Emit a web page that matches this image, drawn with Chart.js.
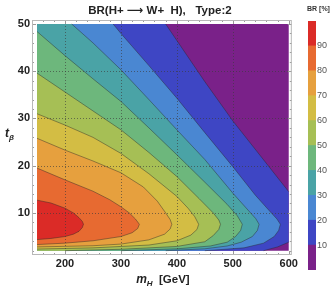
<!DOCTYPE html>
<html>
<head>
<meta charset="utf-8">
<script src="https://cdn.jsdelivr.net/npm/chart.js@4.4.0/dist/chart.umd.min.js"></script>
<style>
	html, body { margin: 0; padding: 0; background: #fff; }
	#wrap { position: relative; width: 332px; height: 289px; }
	#plot { position: absolute; left: 0; top: 0; }
	#bar { position: absolute; left: 300px; top: 0; }
</style>
</head>
<body>
<div id="wrap">
	<canvas id="plot" width="300" height="289"></canvas>
	<canvas id="bar" width="32" height="289"></canvas>
</div>
<script>
// contour levels of BR [%] and band colours (band i = levels[i-1] .. levels[i])
const levels = [10, 20, 30, 40, 50, 60, 70, 80, 90];
const bandColors = ['#7a2189', '#3e46c4', '#4a87d2', '#4aa3a6', '#6db77c', '#a6bf55', '#d3bd44', '#e6a03e', '#e76a31', '#db2b27'];

// contour lines, [mH, tb]
const c10a = [[380, 50], [400, 46.5], [450, 37.8], [500, 29.5], [550, 22.0], [600, 14.5]];
const c10b = [[600, 3.8], [580, 2.8], [555, 2.0]];
const c20 = [[286, 50], [300, 48.0], [350, 41.2], [400, 34.3], [450, 27.0], [500, 19.8], [540, 13.8], [565, 10.5], [579, 8.7], [585, 7.6],
	[582, 6.3], [574, 5.0], [555, 3.6], [520, 2.6], [450, 2.0]];
const c30 = [[212, 50], [250, 46.0], [300, 40.3], [350, 34.0], [400, 27.6], [450, 21.3], [500, 14.2], [528, 10.5], [541, 8.8], [547, 7.6],
	[544, 6.3], [535, 5.0], [515, 3.8], [490, 3.0], [450, 2.4], [380, 2.0]];
const c40 = [[150, 48.4], [200, 43.3], [250, 38.4], [300, 33.6], [350, 28.0], [400, 22.3], [450, 16.5], [490, 11.8], [508, 9.4], [517, 7.6],
	[514, 6.3], [505, 5.0], [490, 3.8], [460, 3.0], [400, 2.4], [300, 2.0]];
const c50 = [[150, 39.6], [200, 35.6], [250, 31.6], [300, 27.6], [350, 22.8], [400, 17.7], [440, 13.0], [465, 10.0], [475, 8.5], [478, 7.6],
	[475, 6.5], [465, 5.2], [450, 3.9], [400, 2.9], [300, 2.3], [200, 2.0]];
const c60 = [[150, 31.0], [200, 28.6], [250, 26.0], [300, 22.6], [350, 18.3], [400, 13.5], [420, 11.0], [432, 9.2], [439, 7.6],
	[436, 6.5], [425, 5.3], [400, 4.1], [350, 3.2], [250, 2.6], [150, 2.35]];
const c70 = [[150, 25.8], [200, 23.3], [250, 21.0], [300, 18.5], [340, 15.5], [365, 12.5], [380, 10.0], [388, 8.6], [391, 7.6],
	[388, 6.6], [378, 5.5], [350, 4.3], [300, 3.4], [250, 3.05], [150, 2.8]];
const c80 = [[150, 19.5], [200, 17.0], [250, 14.6], [280, 12.8], [300, 11.3], [315, 10.0], [326, 8.7], [333, 7.6],
	[330, 6.7], [320, 5.8], [300, 5.0], [250, 4.1], [200, 3.6], [150, 3.3]];
const c90 = [[150, 12.7], [175, 12.1], [200, 11.0], [215, 10.0], [225, 9.0], [231, 8.2], [233, 7.6],
	[231, 6.9], [225, 6.1], [215, 5.5], [200, 5.0], [175, 4.6], [150, 4.35]];

const xTicks = [200, 300, 400, 500, 600];
const yTicks = [10, 20, 30, 40, 50];
const xGrid = [200, 300, 400, 500];
const yGrid = [10, 20, 30, 40];

// plot range of the data
const mMin = 150, mMax = 600, tMin = 2, tMax = 50;

const regions = [
	[[mMin, tMin], [mMax, tMin], [mMax, tMax], [mMin, tMax]],
	[...c10a, ...c10b, [mMin, tMin], [mMin, tMax]],
	[...c20, [mMin, tMin], [mMin, tMax]],
	[...c30, [mMin, tMin], [mMin, tMax]],
	[...c40, [mMin, tMin]],
	[...c50, [mMin, tMin]],
	c60,
	c70,
	c80,
	c90,
];
const contours = [c10a, c10b, c20, c30, c40, c50, c60, c70, c80, c90];

const toXY = (arr) => arr.map(([x, y]) => ({ x, y }));

Chart.defaults.font.family = '"Liberation Sans", Arial, sans-serif';
Chart.defaults.animation = false;

const fillSets = regions.map((r, i) => ({
	data: toXY(r),
	fill: 'shape',
	backgroundColor: bandColors[i],
	borderColor: 'rgba(0,0,0,0)',
	borderWidth: 0,
	pointRadius: 0,
	order: 100 - i,
}));

const lineSets = contours.map((c) => ({
	data: toXY(c),
	fill: false,
	borderColor: 'rgba(40,40,40,0.55)',
	borderWidth: 0.8,
	pointRadius: 0,
	order: 0,
}));

function drawLine(ctx, x1, y1, x2, y2) {
	ctx.beginPath();
	ctx.moveTo(x1, y1);
	ctx.lineTo(x2, y2);
	ctx.stroke();
}

const framePlugin = {
	id: 'frame',
	afterDatasetsDraw(chart) {
		const { ctx, chartArea: a, scales: { x, y } } = chart;
		ctx.save();

		ctx.strokeStyle = 'rgba(60,60,60,0.8)';
		ctx.lineWidth = 0.8;
		ctx.setLineDash([1, 2]);
		xGrid.forEach((v) => {
			const px = Math.round(x.getPixelForValue(v)) + 0.5;
			drawLine(ctx, px, a.top, px, a.bottom);
		});
		yGrid.forEach((v) => {
			const py = Math.round(y.getPixelForValue(v)) + 0.5;
			drawLine(ctx, a.left, py, a.right, py);
		});
		ctx.setLineDash([]);

		// frame ticks, pointing inwards
		ctx.strokeStyle = '#9a9a9a';
		ctx.lineWidth = 1;
		for (let v = 160; v <= mMax; v += 20) {
			const px = Math.round(x.getPixelForValue(v)) + 0.5;
			const len = v % 100 === 0 ? 4 : 2;
			drawLine(ctx, px, a.bottom, px, a.bottom - len);
			drawLine(ctx, px, a.top, px, a.top + len);
		}
		for (let v = tMin; v <= tMax; v += 2) {
			const py = Math.round(y.getPixelForValue(v)) + 0.5;
			const len = v % 10 === 0 ? 4 : 2;
			drawLine(ctx, a.left, py, a.left + len, py);
			drawLine(ctx, a.right, py, a.right - len, py);
		}

		ctx.strokeStyle = '#b8b8b8';
		ctx.strokeRect(a.left + 0.5, a.top + 0.5, a.width - 1, a.height - 1);
		ctx.restore();
	},
	afterDraw(chart) {
		const { ctx, chartArea: a } = chart;
		const cx = (a.left + a.right) / 2;
		ctx.save();
		ctx.fillStyle = '#222';
		ctx.textBaseline = 'alphabetic';

		ctx.font = 'bold 11.5px "Liberation Sans", "DejaVu Sans", sans-serif';
		ctx.textAlign = 'center';
		ctx.fillText('BR(H+ \u27F6 W+  H),   Type:2', cx - 2, 14);

		// x axis title: m_H [GeV]
		ctx.textAlign = 'left';
		const mFont = 'italic bold 12px "Liberation Sans", sans-serif';
		const subFont = 'italic bold 8px "Liberation Sans", sans-serif';
		const unitFont = 'bold 11.5px "Liberation Sans", sans-serif';
		ctx.font = mFont;
		const wm = ctx.measureText('m').width;
		ctx.font = subFont;
		const wh = ctx.measureText('H').width;
		ctx.font = unitFont;
		const wu = ctx.measureText('  [GeV]').width;
		let tx = cx + 1 - (wm + wh + wu) / 2;
		const base = 283;
		ctx.font = mFont;
		ctx.fillText('m', tx, base);
		tx += wm;
		ctx.font = subFont;
		ctx.fillText('H', tx, base + 3);
		tx += wh;
		ctx.font = unitFont;
		ctx.fillText('  [GeV]', tx, base);

		// y axis title: t_beta
		ctx.font = mFont;
		ctx.fillText('t', 5, 137);
		const wt = ctx.measureText('t').width;
		ctx.font = subFont;
		ctx.fillText('\u03B2', 5 + wt, 140);
		ctx.restore();
	},
};

new Chart(document.getElementById('plot'), {
	type: 'line',
	data: { datasets: [...fillSets, ...lineSets] },
	options: {
		responsive: false,
		devicePixelRatio: 1,
		events: [],
		layout: { padding: { top: 20, right: 8, left: 0, bottom: 0 } },
		plugins: { legend: { display: false }, tooltip: { enabled: false } },
		scales: {
			x: {
				type: 'linear',
				min: 141,
				max: 605.5,
				grid: { display: false, drawTicks: false },
				border: { display: false },
				afterBuildTicks: (s) => { s.ticks = xTicks.map((v) => ({ value: v })); },
				afterFit: (s) => { s.height = 34; },
				ticks: { padding: 2, color: '#222', font: { size: 11, weight: 'bold' }, maxRotation: 0 },
			},
			y: {
				type: 'linear',
				min: 1.09,
				max: 50.85,
				grid: { display: false, drawTicks: false },
				border: { display: false },
				afterBuildTicks: (s) => { s.ticks = yTicks.map((v) => ({ value: v })); },
				afterFit: (s) => { s.width = 32; },
				ticks: { padding: 2, color: '#222', font: { size: 11, weight: 'bold' } },
			},
		},
	},
	plugins: [framePlugin],
});

// colour bar legend
const barTicks = [10, 20, 30, 40, 50, 60, 70, 80, 90];

const barTitle = {
	id: 'barTitle',
	afterDraw(chart) {
		const { ctx } = chart;
		ctx.save();
		ctx.fillStyle = '#333';
		ctx.font = 'bold 7px "Liberation Sans", sans-serif';
		ctx.textAlign = 'left';
		ctx.fillText('BR [%]', 7, 11);
		ctx.restore();
	},
};

new Chart(document.getElementById('bar'), {
	type: 'bar',
	data: {
		labels: [''],
		datasets: bandColors.map((c) => ({
			data: [10],
			backgroundColor: c,
			borderWidth: 0,
			barPercentage: 1,
			categoryPercentage: 1,
			stack: 'br',
		})),
	},
	options: {
		responsive: false,
		devicePixelRatio: 1,
		events: [],
		layout: { padding: { top: 21, bottom: 19, left: 8, right: 0 } },
		plugins: { legend: { display: false }, tooltip: { enabled: false } },
		scales: {
			x: { display: false, stacked: true },
			y: {
				position: 'right',
				stacked: true,
				min: 0,
				max: 100,
				z: 1,
				afterBuildTicks: (s) => { s.ticks = barTicks.map((v) => ({ value: v })); },
				afterFit: (s) => { s.width = 16; },
				grid: { drawTicks: false, color: 'rgba(50,50,50,0.45)', lineWidth: 0.8 },
				border: { display: false },
				ticks: { padding: 1, color: '#555', font: { size: 9 } },
			},
		},
	},
	plugins: [barTitle],
});
</script>
</body>
</html>
